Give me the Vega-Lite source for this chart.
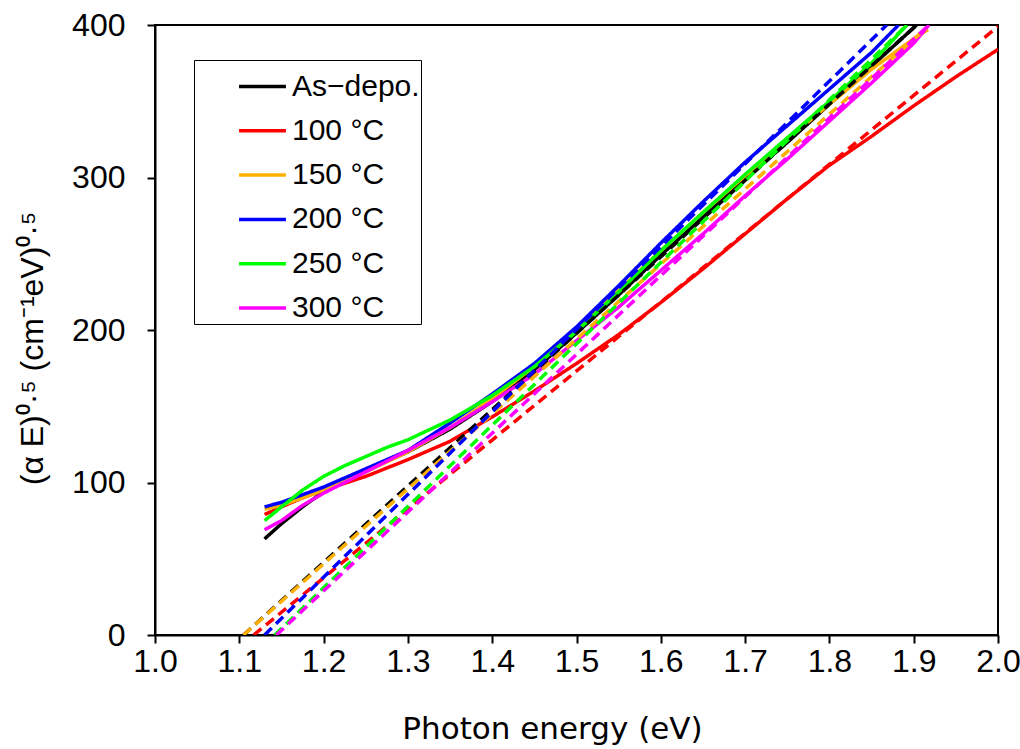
{
  "$schema": "https://vega.github.io/schema/vega-lite/v6.json",
  "width": 843,
  "height": 610,
  "autosize": {"type": "none"},
  "padding": {"left": 155, "top": 25, "right": 22, "bottom": 114},
  "background": "white",
  "config": {
    "font": "Liberation Sans",
    "view": {"stroke": "black", "strokeWidth": 2},
    "axis": {"grid": false, "domainColor": "black", "domainWidth": 2, "tickColor": "black", "tickWidth": 2, "tickSize": 8, "labelColor": "black", "labelFont": "Liberation Sans", "titleColor": "black", "titleFontWeight": "normal"}
  },
  "data": {"values": [
    {"s": "As−depo.", "k": "data", "E": 1.13, "v": 63},
    {"s": "As−depo.", "k": "data", "E": 1.15, "v": 73},
    {"s": "As−depo.", "k": "data", "E": 1.175, "v": 84},
    {"s": "As−depo.", "k": "data", "E": 1.2, "v": 94},
    {"s": "As−depo.", "k": "data", "E": 1.25, "v": 108},
    {"s": "As−depo.", "k": "data", "E": 1.3, "v": 120},
    {"s": "As−depo.", "k": "data", "E": 1.35, "v": 135},
    {"s": "As−depo.", "k": "data", "E": 1.4, "v": 153},
    {"s": "As−depo.", "k": "data", "E": 1.45, "v": 174},
    {"s": "As−depo.", "k": "data", "E": 1.5, "v": 198},
    {"s": "As−depo.", "k": "data", "E": 1.55, "v": 223},
    {"s": "As−depo.", "k": "data", "E": 1.6, "v": 249},
    {"s": "As−depo.", "k": "data", "E": 1.65, "v": 274},
    {"s": "As−depo.", "k": "data", "E": 1.7, "v": 299},
    {"s": "As−depo.", "k": "data", "E": 1.75, "v": 323},
    {"s": "As−depo.", "k": "data", "E": 1.8, "v": 348},
    {"s": "As−depo.", "k": "data", "E": 1.85, "v": 373},
    {"s": "As−depo.", "k": "data", "E": 1.9035, "v": 400},

    {"s": "100 °C", "k": "data", "E": 1.13, "v": 79},
    {"s": "100 °C", "k": "data", "E": 1.15, "v": 84},
    {"s": "100 °C", "k": "data", "E": 1.175, "v": 90},
    {"s": "100 °C", "k": "data", "E": 1.2, "v": 95},
    {"s": "100 °C", "k": "data", "E": 1.25, "v": 104},
    {"s": "100 °C", "k": "data", "E": 1.3, "v": 115},
    {"s": "100 °C", "k": "data", "E": 1.35, "v": 127},
    {"s": "100 °C", "k": "data", "E": 1.4, "v": 143},
    {"s": "100 °C", "k": "data", "E": 1.45, "v": 160},
    {"s": "100 °C", "k": "data", "E": 1.5, "v": 178},
    {"s": "100 °C", "k": "data", "E": 1.55, "v": 197},
    {"s": "100 °C", "k": "data", "E": 1.6, "v": 218},
    {"s": "100 °C", "k": "data", "E": 1.65, "v": 240},
    {"s": "100 °C", "k": "data", "E": 1.7, "v": 263},
    {"s": "100 °C", "k": "data", "E": 1.75, "v": 286},
    {"s": "100 °C", "k": "data", "E": 1.8, "v": 308},
    {"s": "100 °C", "k": "data", "E": 1.85, "v": 327},
    {"s": "100 °C", "k": "data", "E": 1.9, "v": 347},
    {"s": "100 °C", "k": "data", "E": 1.95, "v": 366},
    {"s": "100 °C", "k": "data", "E": 2.0, "v": 384},

    {"s": "150 °C", "k": "data", "E": 1.13, "v": 82.5},
    {"s": "150 °C", "k": "data", "E": 1.15, "v": 85},
    {"s": "150 °C", "k": "data", "E": 1.175, "v": 90},
    {"s": "150 °C", "k": "data", "E": 1.2, "v": 95},
    {"s": "150 °C", "k": "data", "E": 1.25, "v": 107},
    {"s": "150 °C", "k": "data", "E": 1.3, "v": 120},
    {"s": "150 °C", "k": "data", "E": 1.35, "v": 136},
    {"s": "150 °C", "k": "data", "E": 1.4, "v": 155},
    {"s": "150 °C", "k": "data", "E": 1.45, "v": 176},
    {"s": "150 °C", "k": "data", "E": 1.5, "v": 200},
    {"s": "150 °C", "k": "data", "E": 1.55, "v": 226},
    {"s": "150 °C", "k": "data", "E": 1.6, "v": 252},
    {"s": "150 °C", "k": "data", "E": 1.65, "v": 277},
    {"s": "150 °C", "k": "data", "E": 1.7, "v": 301},
    {"s": "150 °C", "k": "data", "E": 1.75, "v": 325},
    {"s": "150 °C", "k": "data", "E": 1.8, "v": 348},
    {"s": "150 °C", "k": "data", "E": 1.85, "v": 371},
    {"s": "150 °C", "k": "data", "E": 1.9, "v": 391},
    {"s": "150 °C", "k": "data", "E": 1.917, "v": 397},

    {"s": "200 °C", "k": "data", "E": 1.13, "v": 84},
    {"s": "200 °C", "k": "data", "E": 1.15, "v": 87},
    {"s": "200 °C", "k": "data", "E": 1.175, "v": 92},
    {"s": "200 °C", "k": "data", "E": 1.2, "v": 97},
    {"s": "200 °C", "k": "data", "E": 1.25, "v": 109},
    {"s": "200 °C", "k": "data", "E": 1.3, "v": 121},
    {"s": "200 °C", "k": "data", "E": 1.35, "v": 139},
    {"s": "200 °C", "k": "data", "E": 1.4, "v": 158},
    {"s": "200 °C", "k": "data", "E": 1.45, "v": 178},
    {"s": "200 °C", "k": "data", "E": 1.5, "v": 202},
    {"s": "200 °C", "k": "data", "E": 1.55, "v": 229},
    {"s": "200 °C", "k": "data", "E": 1.6, "v": 257},
    {"s": "200 °C", "k": "data", "E": 1.65, "v": 284},
    {"s": "200 °C", "k": "data", "E": 1.7, "v": 310},
    {"s": "200 °C", "k": "data", "E": 1.75, "v": 334},
    {"s": "200 °C", "k": "data", "E": 1.8, "v": 358},
    {"s": "200 °C", "k": "data", "E": 1.85, "v": 382},
    {"s": "200 °C", "k": "data", "E": 1.882, "v": 400},

    {"s": "250 °C", "k": "data", "E": 1.13, "v": 75},
    {"s": "250 °C", "k": "data", "E": 1.15, "v": 84},
    {"s": "250 °C", "k": "data", "E": 1.175, "v": 95},
    {"s": "250 °C", "k": "data", "E": 1.2, "v": 104},
    {"s": "250 °C", "k": "data", "E": 1.225, "v": 111},
    {"s": "250 °C", "k": "data", "E": 1.25, "v": 117},
    {"s": "250 °C", "k": "data", "E": 1.275, "v": 123},
    {"s": "250 °C", "k": "data", "E": 1.3, "v": 128},
    {"s": "250 °C", "k": "data", "E": 1.35, "v": 141},
    {"s": "250 °C", "k": "data", "E": 1.4, "v": 157},
    {"s": "250 °C", "k": "data", "E": 1.45, "v": 176},
    {"s": "250 °C", "k": "data", "E": 1.5, "v": 199},
    {"s": "250 °C", "k": "data", "E": 1.55, "v": 225},
    {"s": "250 °C", "k": "data", "E": 1.6, "v": 252},
    {"s": "250 °C", "k": "data", "E": 1.65, "v": 277},
    {"s": "250 °C", "k": "data", "E": 1.7, "v": 302},
    {"s": "250 °C", "k": "data", "E": 1.75, "v": 326},
    {"s": "250 °C", "k": "data", "E": 1.8, "v": 350},
    {"s": "250 °C", "k": "data", "E": 1.85, "v": 375},
    {"s": "250 °C", "k": "data", "E": 1.892, "v": 400},

    {"s": "300 °C", "k": "data", "E": 1.13, "v": 69},
    {"s": "300 °C", "k": "data", "E": 1.15, "v": 75},
    {"s": "300 °C", "k": "data", "E": 1.175, "v": 85},
    {"s": "300 °C", "k": "data", "E": 1.2, "v": 93},
    {"s": "300 °C", "k": "data", "E": 1.25, "v": 107},
    {"s": "300 °C", "k": "data", "E": 1.3, "v": 121},
    {"s": "300 °C", "k": "data", "E": 1.35, "v": 136},
    {"s": "300 °C", "k": "data", "E": 1.4, "v": 153},
    {"s": "300 °C", "k": "data", "E": 1.45, "v": 171},
    {"s": "300 °C", "k": "data", "E": 1.5, "v": 193},
    {"s": "300 °C", "k": "data", "E": 1.55, "v": 215},
    {"s": "300 °C", "k": "data", "E": 1.6, "v": 239},
    {"s": "300 °C", "k": "data", "E": 1.65, "v": 263},
    {"s": "300 °C", "k": "data", "E": 1.7, "v": 288},
    {"s": "300 °C", "k": "data", "E": 1.75, "v": 312},
    {"s": "300 °C", "k": "data", "E": 1.8, "v": 337},
    {"s": "300 °C", "k": "data", "E": 1.85, "v": 362},
    {"s": "300 °C", "k": "data", "E": 1.9, "v": 388},
    {"s": "300 °C", "k": "data", "E": 1.918, "v": 400},

    {"s": "As−depo.", "k": "fit", "E": 1.105, "v": 0},
    {"s": "As−depo.", "k": "fit", "E": 1.9035, "v": 400},
    {"s": "100 °C", "k": "fit", "E": 1.117, "v": 0},
    {"s": "100 °C", "k": "fit", "E": 2.0, "v": 399},
    {"s": "150 °C", "k": "fit", "E": 1.105, "v": 0},
    {"s": "150 °C", "k": "fit", "E": 1.915, "v": 398},
    {"s": "200 °C", "k": "fit", "E": 1.13, "v": 0},
    {"s": "200 °C", "k": "fit", "E": 1.868, "v": 400},
    {"s": "250 °C", "k": "fit", "E": 1.142, "v": 0},
    {"s": "250 °C", "k": "fit", "E": 1.892, "v": 400},
    {"s": "300 °C", "k": "fit", "E": 1.144, "v": 0},
    {"s": "300 °C", "k": "fit", "E": 1.918, "v": 400}
  ]},
  "mark": {"type": "line", "strokeWidth": 3.5, "clip": true},
  "encoding": {
    "x": {"field": "E", "type": "quantitative",
      "scale": {"domain": [1.0, 2.0], "nice": false, "zero": false},
      "axis": {"values": [1.0, 1.1, 1.2, 1.3, 1.4, 1.5, 1.6, 1.7, 1.8, 1.9, 2.0], "format": ".1f", "labelFontSize": 32, "labelPadding": 3, "labelFlush": false, "labelOverlap": false, "title": "Photon energy (eV)", "titleFont": "DejaVu Sans", "titleFontSize": 31, "titleX": 397, "titleY": 103, "titleAlign": "center", "titleBaseline": "alphabetic"}},
    "y": {"field": "v", "type": "quantitative",
      "scale": {"domain": [0, 400], "nice": false},
      "axis": {"values": [0, 100, 200, 300, 400], "labelFontSize": 32, "labelPadding": 22, "labelFlush": false, "title": "(α E)⁰·⁵   (cm⁻¹eV)⁰·⁵", "titleFont": "Liberation Sans", "titleFontSize": 32, "titleX": -123, "titleY": 323, "titleAngle": -90, "titleAlign": "center", "titleBaseline": "middle"}},
    "color": {"field": "s", "type": "nominal",
      "scale": {"domain": ["As−depo.", "100 °C", "150 °C", "200 °C", "250 °C", "300 °C"], "range": ["#000000", "#FF0000", "#FFB000", "#0000FF", "#00FF00", "#FF00FF"]},
      "legend": {"title": null, "orient": "none", "legendX": 39, "legendY": 35, "strokeColor": "black", "fillColor": "white", "padding": 1, "symbolType": "stroke", "symbolStrokeWidth": 3.5, "symbolSize": 2200, "symbolOffset": 42, "labelFontSize": 30, "labelColor": "black", "labelOffset": 4, "rowPadding": 3.3}},
    "strokeDash": {"field": "k", "type": "nominal",
      "scale": {"domain": ["data", "fit"], "range": [[1, 0], [10, 6]]},
      "legend": null}
  }
}
